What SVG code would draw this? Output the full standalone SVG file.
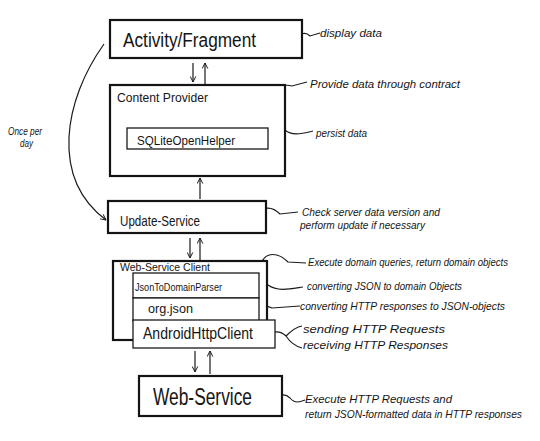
<svg xmlns="http://www.w3.org/2000/svg" width="540" height="441" viewBox="0 0 540 441">
<style>
text{font-family:"Liberation Sans","DejaVu Sans",sans-serif;fill:#151515}
.box{fill:#fff;stroke:#141414;stroke-width:2.2}
.ibox{fill:#fff;stroke:#1a1a1a;stroke-width:1.3}
.lead{fill:none;stroke:#1a1a1a;stroke-width:1.1}
.arr{fill:none;stroke:#1a1a1a;stroke-width:1.2;marker-end:url(#ah)}
.note{font-size:11px;font-style:italic}
</style>
<defs>
<marker id="ah" viewBox="0 0 10 10" refX="9" refY="5" markerWidth="7" markerHeight="7" orient="auto" markerUnits="userSpaceOnUse">
<path d="M1,1 L9,5 L1,9" fill="none" stroke="#1a1a1a" stroke-width="1.4"/>
</marker>
</defs>
<rect width="540" height="441" fill="#fff"/>

<g id="connectors">
<path class="arr" d="M193,63 L193,82"/>
<path class="arr" d="M205,84 L205,63"/>
<path class="arr" d="M200,199 L200,178"/>
<path class="arr" d="M190,238 L190,258"/>
<path class="arr" d="M200,260 L200,238"/>
<path class="arr" d="M195,351 L195,372"/>
<path class="arr" d="M210,374 L210,351"/>
<path class="arr" d="M104,44 C64,100 50,178 106,220"/>
<path class="lead" d="M298,40 C300,32 306,32 310,36 L320,33"/>
<path class="lead" d="M276,95 C278,86 285,84 292,86 L307,82"/>
<path class="lead" d="M258,140 C262,126 275,126 285,130 C292,136 300,134 313,131"/>
<path class="lead" d="M259,215 C262,206 272,206 280,214 L298,212"/>
<path class="lead" d="M262,262 C266,252 278,252 288,262 L306,263"/>
<path class="lead" d="M248,288 C252,280 260,280 268,285 C278,292 290,289 303,287"/>
<path class="lead" d="M253,313 C258,305 266,305 272,308 L300,306"/>
<path class="lead" d="M265,340 C268,330 280,330 286,336 C292,330 296,327 302,326 M286,336 C290,342 294,346 302,348"/>
<path class="lead" d="M275,401 C278,394 285,393 290,398 C295,404 300,402 305,400"/>
</g>

<g id="activity-fragment">
<rect class="box" x="110" y="20" width="192" height="38"/>
<text x="123" y="47" font-size="20" textLength="133" lengthAdjust="spacingAndGlyphs">Activity/Fragment</text>
</g>

<g id="content-provider">
<rect class="box" x="110" y="85" width="175" height="91"/>
<text x="117" y="102" font-size="13" textLength="91" lengthAdjust="spacingAndGlyphs">Content Provider</text>
</g>

<g id="sqlite-open-helper">
<rect class="ibox" x="127" y="128" width="141" height="21"/>
<text x="137" y="145" font-size="13" textLength="98" lengthAdjust="spacingAndGlyphs">SQLiteOpenHelper</text>
</g>

<g id="update-service">
<rect class="box" x="108" y="201" width="158" height="32"/>
<text x="120" y="226" font-size="15" textLength="80" lengthAdjust="spacingAndGlyphs">Update-Service</text>
</g>

<g id="web-service-client">
<rect class="box" x="113" y="261" width="154" height="79"/>
<text x="120" y="271" font-size="11" textLength="90" lengthAdjust="spacingAndGlyphs">Web-Service Client</text>
</g>

<g id="json-to-domain-parser">
<rect class="ibox" x="133" y="273" width="126" height="25"/>
<text x="135" y="291" font-size="11" textLength="87" lengthAdjust="spacingAndGlyphs">JsonToDomainParser</text>
</g>

<g id="org-json">
<rect class="ibox" x="133" y="298" width="126" height="23"/>
<text x="148" y="313" font-size="13" textLength="45" lengthAdjust="spacingAndGlyphs">org.json</text>
</g>

<g id="android-http-client">
<rect class="ibox" x="133" y="320" width="142" height="28"/>
<text x="143" y="339" font-size="17" textLength="110" lengthAdjust="spacingAndGlyphs">AndroidHttpClient</text>
</g>

<g id="web-service">
<rect class="box" x="139" y="376" width="143" height="40"/>
<text x="153" y="405" font-size="23" textLength="99" lengthAdjust="spacingAndGlyphs">Web-Service</text>
</g>

<g id="notes">
<text class="note" x="320" y="37" textLength="62" lengthAdjust="spacingAndGlyphs">display data</text>
<text class="note" x="310" y="88" textLength="150" lengthAdjust="spacingAndGlyphs">Provide data through contract</text>
<text class="note" x="316" y="137" textLength="51" lengthAdjust="spacingAndGlyphs">persist data</text>
<text class="note" x="302" y="216" textLength="138" lengthAdjust="spacingAndGlyphs">Check server data version and</text>
<text class="note" x="300" y="229" textLength="125" lengthAdjust="spacingAndGlyphs">perform update if necessary</text>
<text class="note" x="308" y="266" textLength="200" lengthAdjust="spacingAndGlyphs">Execute domain queries, return domain objects</text>
<text class="note" x="307" y="290" textLength="155" lengthAdjust="spacingAndGlyphs">converting JSON to domain Objects</text>
<text class="note" x="300" y="310" textLength="205" lengthAdjust="spacingAndGlyphs">converting HTTP responses to JSON-objects</text>
<text class="note" x="303" y="333" textLength="142" lengthAdjust="spacingAndGlyphs">sending HTTP Requests</text>
<text class="note" x="303" y="349" textLength="145" lengthAdjust="spacingAndGlyphs">receiving HTTP Responses</text>
<text class="note" x="305" y="403" textLength="147" lengthAdjust="spacingAndGlyphs">Execute HTTP Requests and</text>
<text class="note" x="305" y="418" textLength="217" lengthAdjust="spacingAndGlyphs">return JSON-formatted data in HTTP responses</text>
<text class="note" x="8" y="135" font-size="9" textLength="34" lengthAdjust="spacingAndGlyphs">Once per</text>
<text class="note" x="20" y="147" font-size="9" textLength="13" lengthAdjust="spacingAndGlyphs">day</text>
</g>
</svg>
